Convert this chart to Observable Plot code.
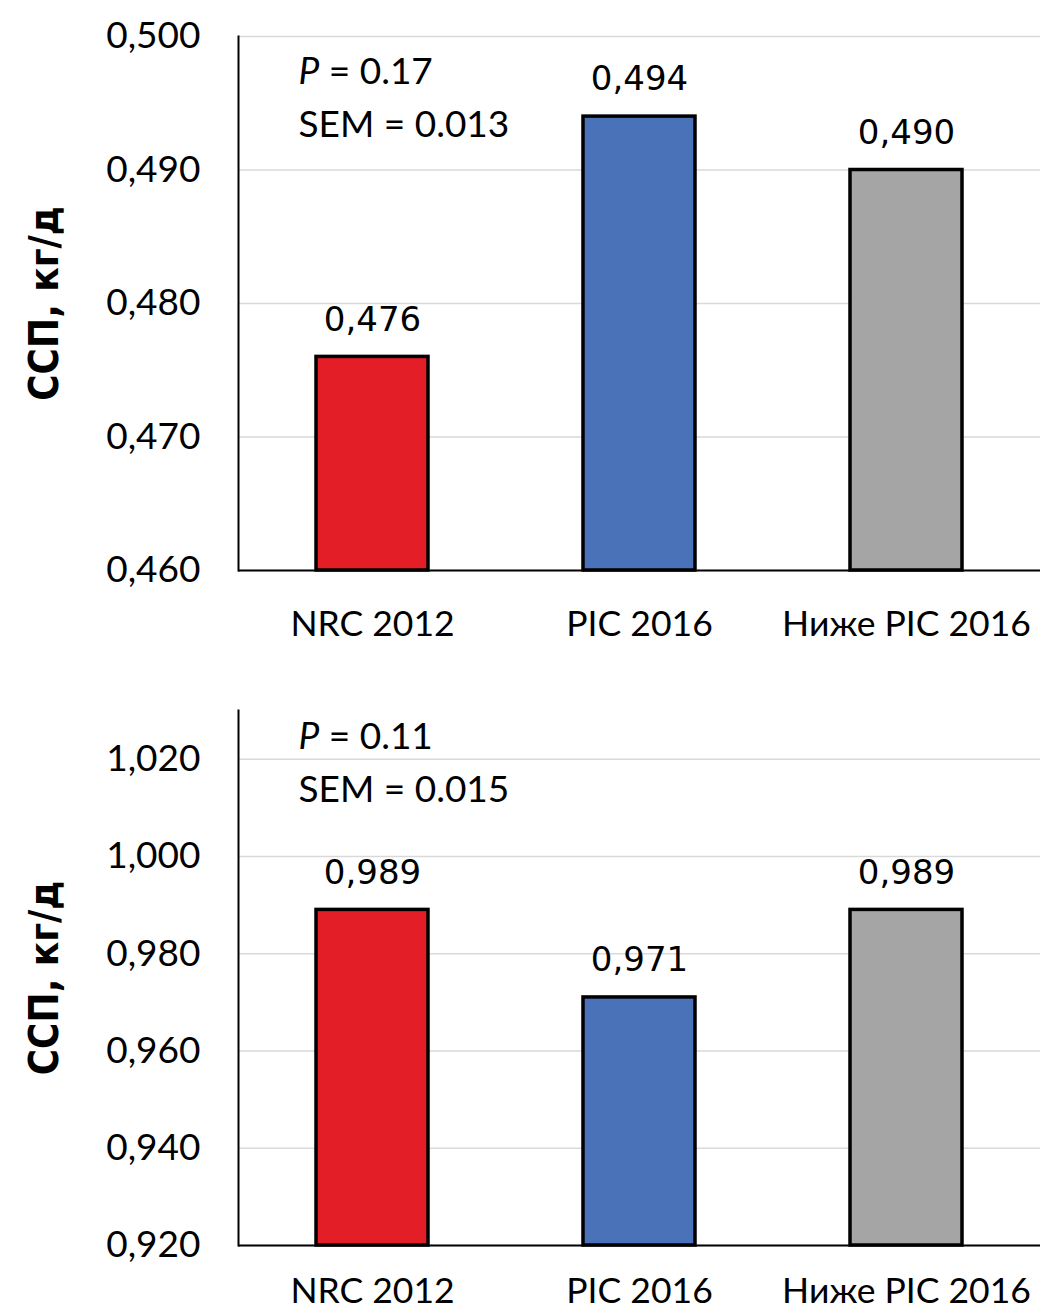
<!DOCTYPE html>
<html>
<head>
<meta charset="utf-8">
<script src="https://cdn.jsdelivr.net/npm/d3@7"></script>
<script src="https://cdn.jsdelivr.net/npm/@observablehq/plot@0.6"></script>
<style>
  html, body { margin: 0; padding: 0; background: #fff; }
  #chart { width: 1040px; }
  #chart svg { display: block; }
</style>
</head>
<body>
<div id="chart"></div>
<script>
// ---- data ----
const categories = ["NRC 2012", "PIC 2016", "Ниже PIC 2016"];
const valuesTop = [0.476, 0.494, 0.490];
const valuesBottom = [0.989, 0.971, 0.989];
const barColors = ["#E41E26", "#4A72B8", "#A5A5A5"];
const yTicksTop = [0.46, 0.47, 0.48, 0.49, 0.50];
const yTicksBottom = [0.92, 0.94, 0.96, 0.98, 1.00, 1.02];
const yDomainTop = [0.46, 0.50];
const yDomainBottom = [0.92, 1.03];
const statsTop = ["P = 0.17", "SEM = 0.013"];
const statsBottom = ["P = 0.11", "SEM = 0.015"];
const yLabel = "ССП, кг/д";

const fmt = v => d3.format(".3f")(v).replace(".", ",");
const FONT = "Lato, 'Open Sans', sans-serif";
const VALUE_FONT = "'DejaVu Sans', Verdana, sans-serif";
const LABEL_FONT = "'Liberation Sans Narrow', 'DejaVu Sans Condensed', Lato, sans-serif";

function panel(values, domain, ticks, stats, opts) {
  const data = categories.map((c, i) => ({cat: c, value: values[i], color: barColors[i]}));
  const ymin = domain[0];
  const svg = Plot.plot({
    width: 1040,
    height: 657,
    marginLeft: 238,
    marginRight: 0,
    marginTop: opts.marginTop,
    marginBottom: opts.marginBottom,
    style: {fontFamily: FONT, fontSize: "35px", color: "#000", background: "#fff"},
    x: {domain: categories, paddingInner: 0.58, paddingOuter: 0.29, axis: null},
    y: {domain, axis: null},
    color: {type: "identity"},
    marks: [
      Plot.gridY(ticks, {stroke: "#d9d9d9", strokeOpacity: 1, strokeWidth: 1.5}),
      Plot.barY(data, {x: "cat", y1: () => ymin, y2: "value", fill: "color", stroke: "#000", strokeWidth: 3.5}),
      Plot.ruleY([ymin], {stroke: "#000", strokeWidth: 2}),
      Plot.frame({anchor: "left", stroke: "#000", strokeWidth: 2}),
      Plot.axisY(ticks, {tickSize: 0, tickPadding: 38, fontSize: 37, tickFormat: fmt, label: null}),
      Plot.axisX({tickSize: 0, tickPadding: opts.xPad, fontSize: 35.5, label: null}),
      Plot.text(data, {x: "cat", y: "value", text: d => fmt(d.value), dy: -37, fontSize: 34, fontFamily: VALUE_FONT, fill: "#000"}),
      Plot.text([stats.join("\n")], {frameAnchor: "top-left", textAnchor: "start", lineAnchor: "top", lineHeight: 1.45, dx: 60, dy: opts.statsDy, fontSize: 37, fill: "#000"}),
      Plot.text([yLabel], {frameAnchor: "left", rotate: -90, dx: -193, textAnchor: "middle", fontSize: 40, fontWeight: "bold", fontFamily: LABEL_FONT, fill: "#000"})
    ]
  });
  // italic "P"
  d3.select(svg).selectAll("text, tspan").each(function() {
    if (this.childElementCount === 0 && this.textContent.startsWith("P =")) {
      const rest = this.textContent.slice(1);
      this.textContent = "";
      d3.select(this).append("tspan").attr("font-style", "italic").text("P");
      d3.select(this).append("tspan").text(rest);
    }
  });
  return svg;
}

const root = document.getElementById("chart");
root.appendChild(panel(valuesTop, yDomainTop, yTicksTop, statsTop, {marginTop: 36, marginBottom: 87, statsDy: 9, xPad: 40}));
root.appendChild(panel(valuesBottom, yDomainBottom, yTicksBottom, statsBottom, {marginTop: 53, marginBottom: 69, statsDy: 0, xPad: 32}));
</script>
</body>
</html>
